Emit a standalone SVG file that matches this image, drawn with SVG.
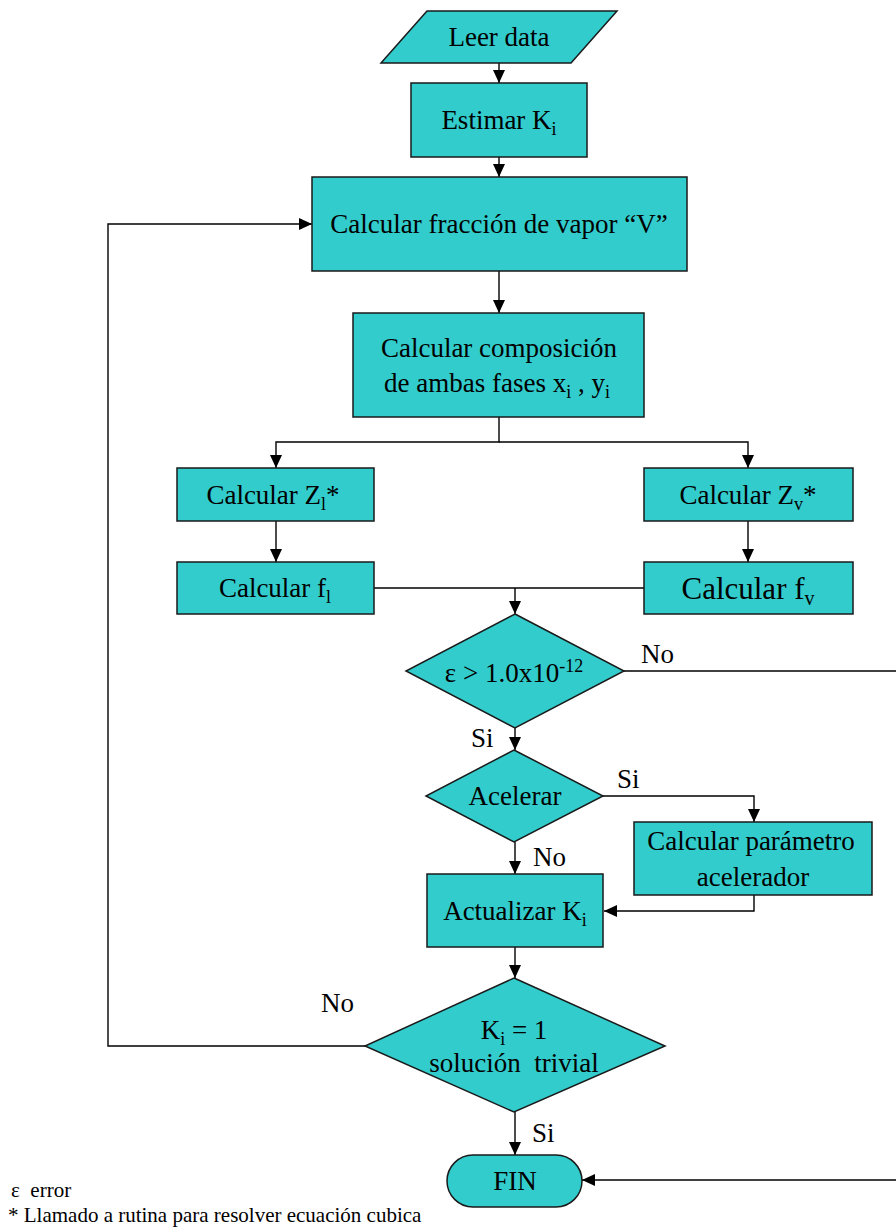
<svg xmlns="http://www.w3.org/2000/svg" width="896" height="1230" viewBox="0 0 896 1230">
<style>
.n{fill:#33CCCC;stroke:#1a1a1a;stroke-width:1.5}
.t{font-family:"Liberation Serif","Times New Roman",serif;font-size:27px;fill:#000;text-anchor:middle}
.l{font-family:"Liberation Serif","Times New Roman",serif;font-size:27px;fill:#000}
.f{font-family:"Liberation Serif","Times New Roman",serif;font-size:21px;fill:#000}
.c{fill:none;stroke:#000;stroke-width:1.4}
.s{font-size:18px}
</style>
<defs>
<marker id="a" markerWidth="13" markerHeight="12" refX="13" refY="6" orient="auto" markerUnits="userSpaceOnUse"><path d="M0,0L13,6L0,12z" fill="#000"/></marker>
</defs>
<g id="connectors">
<path class="c" d="M499,63V83" marker-end="url(#a)"/>
<path class="c" d="M499,157V177" marker-end="url(#a)"/>
<path class="c" d="M499,271V313" marker-end="url(#a)"/>
<path class="c" d="M499,417V442H276V468" marker-end="url(#a)"/>
<path class="c" d="M499,442H748V468" marker-end="url(#a)"/>
<path class="c" d="M276,521V562" marker-end="url(#a)"/>
<path class="c" d="M748,521V562" marker-end="url(#a)"/>
<path class="c" d="M374,588H644"/>
<path class="c" d="M515,588V614" marker-end="url(#a)"/>
<path class="c" d="M624,671H896"/>
<path class="c" d="M515,728V750" marker-end="url(#a)"/>
<path class="c" d="M603,796H754V822" marker-end="url(#a)"/>
<path class="c" d="M515,842V874" marker-end="url(#a)"/>
<path class="c" d="M754,895V911H604" marker-end="url(#a)"/>
<path class="c" d="M515,947V978" marker-end="url(#a)"/>
<path class="c" d="M365,1046H108V224H312" marker-end="url(#a)"/>
<path class="c" d="M515,1112V1155" marker-end="url(#a)"/>
<path class="c" d="M896,1180H582" marker-end="url(#a)"/>
<text class="l" x="641" y="663">No</text>
<text class="l" x="471" y="747">Si</text>
<text class="l" x="617" y="788">Si</text>
<text class="l" x="533" y="866">No</text>
<text class="l" x="321" y="1012">No</text>
<text class="l" x="532" y="1142">Si</text>
</g>
<g id="leer">
<polygon class="n" points="427,11 617,11 571,63 381,63"/>
<text class="t" x="499" y="46">Leer data</text>
</g>
<g id="estimar">
<rect class="n" x="411" y="83" width="176" height="74"/>
<text class="t" x="499" y="129">Estimar K<tspan class="s" dy="6">i</tspan></text>
</g>
<g id="fraccion">
<rect class="n" x="312" y="177" width="375" height="94"/>
<text class="t" x="499" y="233">Calcular fracción de vapor “V”</text>
</g>
<g id="composicion">
<rect class="n" x="353" y="313" width="291" height="104"/>
<text class="t" x="499" y="357">Calcular composición</text>
<text class="t" x="497" y="392">de ambas fases x<tspan class="s" dy="6">i</tspan><tspan dy="-6"> , y</tspan><tspan class="s" dy="6">i</tspan></text>
</g>
<g id="zl">
<rect class="n" x="177" y="468" width="197" height="53"/>
<text class="t" x="273" y="504">Calcular Z<tspan class="s" dy="6">l</tspan><tspan dy="-6">*</tspan></text>
</g>
<g id="zv">
<rect class="n" x="644" y="468" width="209" height="53"/>
<text class="t" x="748" y="504">Calcular Z<tspan class="s" dy="6">v</tspan><tspan dy="-6">*</tspan></text>
</g>
<g id="fl">
<rect class="n" x="177" y="562" width="197" height="52"/>
<text class="t" x="275" y="597">Calcular f<tspan class="s" dy="6">l</tspan></text>
</g>
<g id="fv">
<rect class="n" x="644" y="562" width="209" height="52"/>
<text class="t" x="748" y="599" style="font-size:31px">Calcular f<tspan style="font-size:20px" dy="6">v</tspan></text>
</g>
<g id="epsilon">
<polygon class="n" points="515,614 624,671 515,728 406,671"/>
<text class="t" x="514" y="682">ε &gt; 1.0x10<tspan class="s" dy="-10">-12</tspan></text>
</g>
<g id="acelerar">
<polygon class="n" points="514,750 603,796 514,842 426,796"/>
<text class="t" x="515" y="805">Acelerar</text>
</g>
<g id="parametro">
<rect class="n" x="634" y="822" width="238" height="73"/>
<text class="t" x="751" y="850">Calcular parámetro</text>
<text class="t" x="753" y="886">acelerador</text>
</g>
<g id="actualizar">
<rect class="n" x="427" y="874" width="176" height="73"/>
<text class="t" x="515" y="920">Actualizar K<tspan class="s" dy="6">i</tspan></text>
</g>
<g id="trivial">
<polygon class="n" points="514,978 665,1046 514,1112 365,1046"/>
<text class="t" x="514" y="1039">K<tspan class="s" dy="6">i</tspan><tspan dy="-6"> = 1</tspan></text>
<text class="t" x="514" y="1072" xml:space="preserve">solución  trivial</text>
</g>
<g id="fin">
<rect class="n" x="447" y="1155" width="135" height="52" rx="26"/>
<text class="t" x="515" y="1190">FIN</text>
</g>
<g id="notas">
<text class="f" x="11" y="1197" xml:space="preserve">ε  error</text>
<text class="f" x="8" y="1222">* Llamado a rutina para resolver ecuación cubica</text>
</g>
</svg>
